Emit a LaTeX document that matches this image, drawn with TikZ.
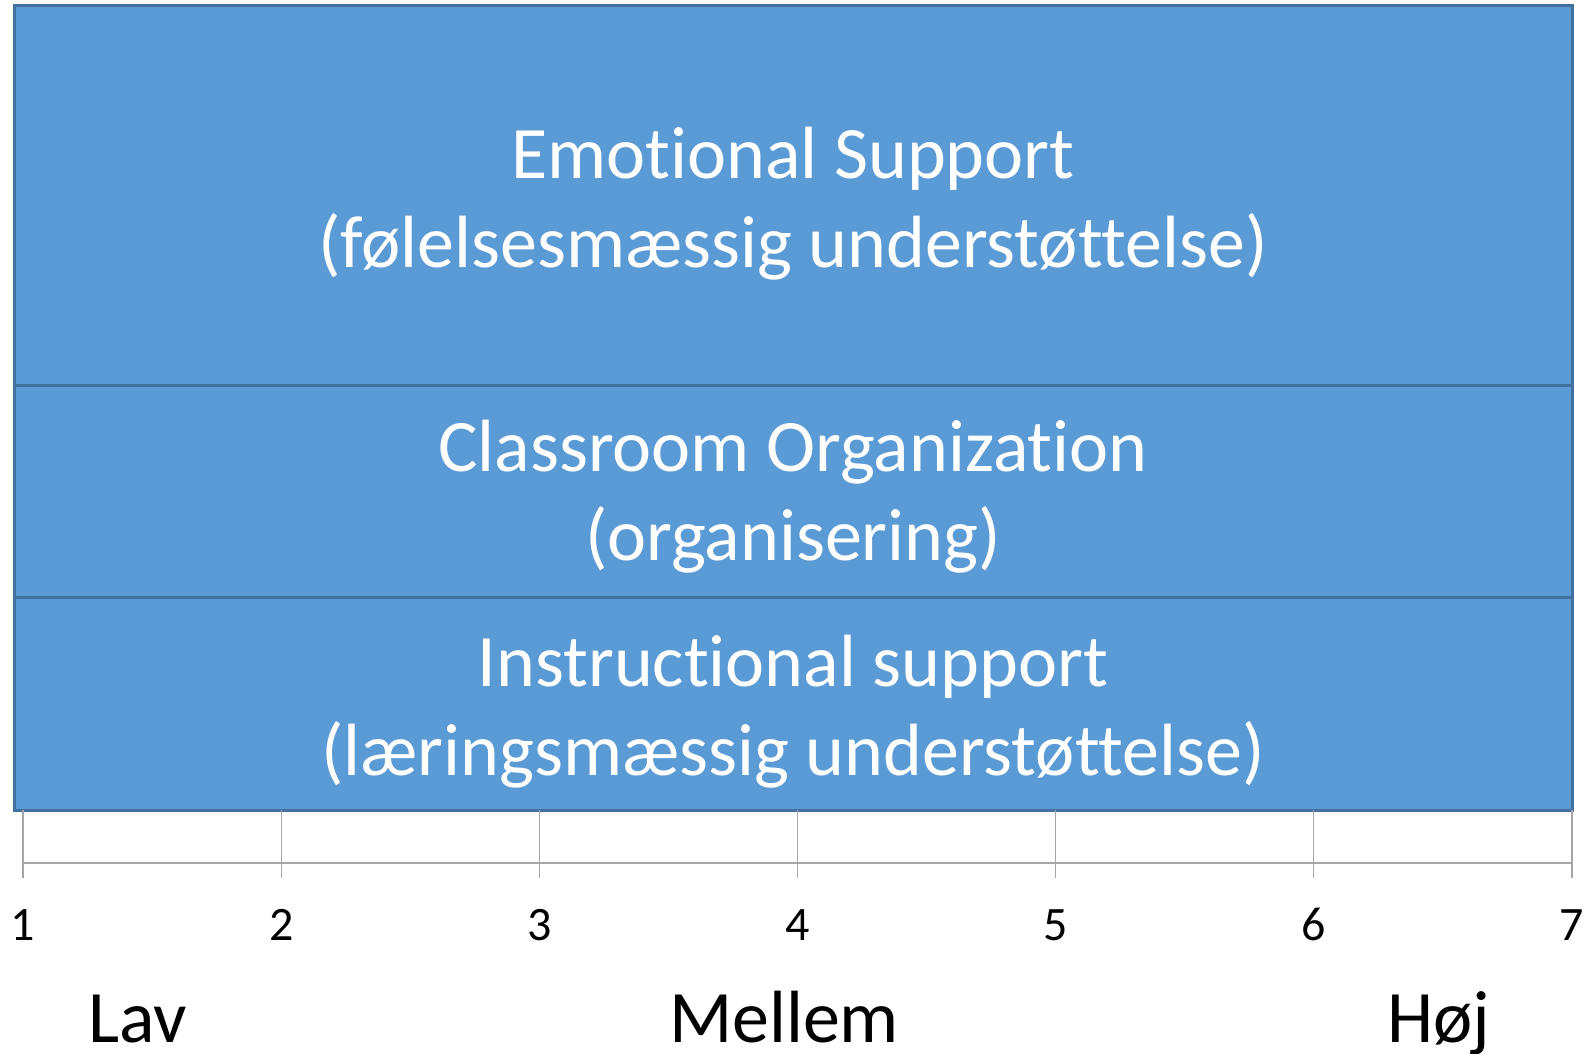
\documentclass[tikz,border=0pt]{standalone}
\usepackage{fontspec}
\setmainfont{Carlito}[Ligatures={NoCommon,NoContextual}]
\usepackage{xcolor}
\usepackage{tikz}
\definecolor{bandfill}{HTML}{5B9BD5}
\definecolor{bandedge}{HTML}{41719C}
\definecolor{axisgray}{HTML}{A6A6A6}
\tikzset{
    band/.style={draw=bandedge, fill=bandfill, line width=1.5pt, inner sep=0pt,
        minimum width=779pt},
    bandtext/.style={text=white, align=center, inner sep=0pt,
        font=\fontsize{37}{44.5}\selectfont},
    axisline/.style={draw=axisgray, line width=0.6pt},
    ticklabel/.style={anchor=base, inner sep=0pt, font=\fontsize{24}{28}\selectfont},
    levellabel/.style={anchor=base, inner sep=0pt, font=\fontsize{37}{44}\selectfont}
}

\begin{document}
\begin{tikzpicture}[x=0.5pt, y=-0.5pt]
    \useasboundingbox (0,0) rectangle (1587,1054);
    \node[band, minimum height=189.5pt] (emo) at (793,195.5) {};
    \node[band, minimum height=106pt] (org) at (793,491) {};
    \node[band, minimum height=106.5pt] (ins) at (793,703.5) {};
    \node[bandtext] (emotext) at ([yshift=-4pt]emo.center)
        {Emotional Support\\(følelsesmæssig understøttelse)};
    \node[bandtext] (orgtext) at ([yshift=-3pt]org.center)
        {Classroom Organization\\(organisering)};
    \node[bandtext] (instext) at ([yshift=-4pt]ins.center)
        {Instructional support\\(læringsmæssig understøttelse)};
    \foreach \i in {1,...,7} {
        \coordinate (top\i) at ({23+258.17*(\i-1)},810);
        \coordinate (bot\i) at ({23+258.17*(\i-1)},878);
        \draw[axisline] (top\i) -- (bot\i);
        \node[ticklabel] (t\i) at ({23+258.17*(\i-1)},940) {\i};
    }
    \draw[axisline] (top1 |- 0,863) -- (top7 |- 0,863);
    \node[levellabel] (lav) at (138,1042) {Lav};
    \node[levellabel] (mellem) at (784,1042) {Mellem};
    \node[levellabel] (hoej) at (1439,1042) {Høj};
\end{tikzpicture}
\end{document}
